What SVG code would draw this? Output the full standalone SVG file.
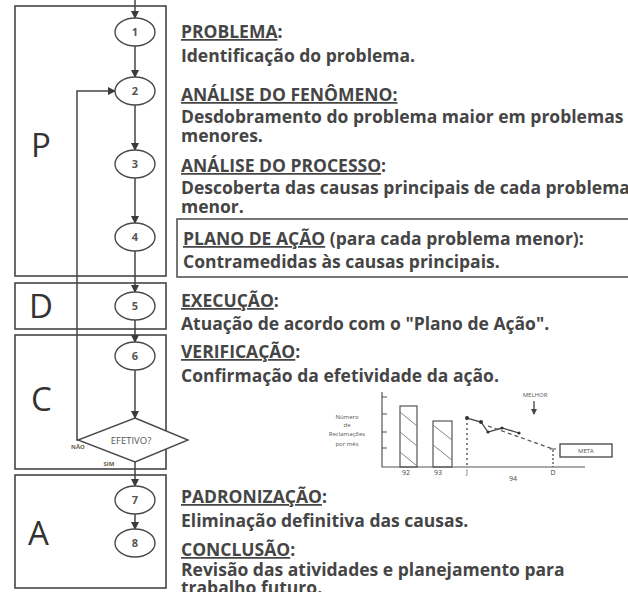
<svg xmlns="http://www.w3.org/2000/svg" width="628" height="592" viewBox="0 0 628 592">
<style>
.box{fill:none;stroke:#454545;stroke-width:1.6}
.node{fill:#fff;stroke:#4a4a4a;stroke-width:1.4}
.num{font-family:"Open Sans","Liberation Sans",sans-serif;font-weight:bold;font-size:11px;fill:#555;text-anchor:middle}
.big{font-family:"Open Sans","Liberation Sans",sans-serif;font-size:33px;fill:#333}
.t{font-family:"Open Sans","Liberation Sans",sans-serif;font-weight:bold;font-size:17.5px;fill:#454545}
.u{text-decoration:underline}
.con{fill:none;stroke:#454545;stroke-width:1.5}
.ch{fill:none;stroke:#555;stroke-width:1.2}
.sm{font-family:"Open Sans","Liberation Sans",sans-serif;font-size:6px;fill:#555;text-anchor:middle}
.lab{font-family:"Open Sans","Liberation Sans",sans-serif;font-size:7px;fill:#444;text-anchor:middle}
</style>
<defs>
<marker id="ah" markerWidth="8" markerHeight="8" refX="7" refY="4" orient="auto" markerUnits="userSpaceOnUse">
<path d="M0,0 L8,4 L0,8 z" fill="#3a3a3a"/>
</marker>
<marker id="sah" markerWidth="6" markerHeight="6" refX="5" refY="3" orient="auto" markerUnits="userSpaceOnUse">
<path d="M0,0 L6,3 L0,6 z" fill="#444"/>
</marker>
</defs>
<rect width="628" height="592" fill="#fff"/>

<g id="phases">
<rect class="box" x="15" y="6" width="151" height="270"/>
<rect class="box" x="15" y="283" width="151" height="46"/>
<rect class="box" x="15" y="335" width="151" height="134"/>
<rect class="box" x="15" y="475" width="151" height="113"/>
<text class="big" x="31" y="157">P</text>
<text class="big" x="29" y="318">D</text>
<text class="big" x="31" y="411">C</text>
<text class="big" x="28" y="545">A</text>
</g>

<g id="connectors">
<line class="con" x1="135" y1="0" x2="135" y2="18" marker-end="url(#ah)"/>
<line class="con" x1="135" y1="46" x2="135" y2="77" marker-end="url(#ah)"/>
<line class="con" x1="135" y1="105" x2="135" y2="150" marker-end="url(#ah)"/>
<line class="con" x1="135" y1="178" x2="135" y2="223" marker-end="url(#ah)"/>
<line class="con" x1="135" y1="251" x2="135" y2="292" marker-end="url(#ah)"/>
<line class="con" x1="135" y1="320" x2="135" y2="342" marker-end="url(#ah)"/>
<line class="con" x1="135" y1="370" x2="135" y2="418" marker-end="url(#ah)"/>
<line class="con" x1="135" y1="462" x2="135" y2="486" marker-end="url(#ah)"/>
<line class="con" x1="135" y1="514" x2="135" y2="529" marker-end="url(#ah)"/>
<path class="con" d="M79,440 H77 V91 H115" marker-end="url(#ah)"/>
</g>

<g id="n1"><ellipse class="node" cx="135" cy="32" rx="20" ry="14"/><text class="num" x="135" y="36">1</text></g>
<g id="n2"><ellipse class="node" cx="135" cy="91" rx="20" ry="14"/><text class="num" x="135" y="95">2</text></g>
<g id="n3"><ellipse class="node" cx="135" cy="164" rx="20" ry="14"/><text class="num" x="135" y="168">3</text></g>
<g id="n4"><ellipse class="node" cx="135" cy="237" rx="20" ry="14"/><text class="num" x="135" y="241">4</text></g>
<g id="n5"><ellipse class="node" cx="135" cy="306" rx="20" ry="14"/><text class="num" x="135" y="310">5</text></g>
<g id="n6"><ellipse class="node" cx="135" cy="356" rx="20" ry="14"/><text class="num" x="135" y="360">6</text></g>
<g id="decision">
<polygon class="node" points="135,418 188,440 135,462 78,440"/>
<text x="131" y="444" font-family="Open Sans, Liberation Sans, sans-serif" font-size="9.5" fill="#555" text-anchor="middle">EFETIVO?</text>
<text x="78" y="449" font-family="Open Sans, Liberation Sans, sans-serif" font-size="6" font-weight="bold" fill="#6a5a40" text-anchor="middle">NÃO</text>
<text x="109" y="466" font-family="Open Sans, Liberation Sans, sans-serif" font-size="6" font-weight="bold" fill="#6a5a40" text-anchor="middle">SIM</text>
</g>
<g id="n7"><ellipse class="node" cx="135" cy="500" rx="20" ry="14"/><text class="num" x="135" y="504">7</text></g>
<g id="n8"><ellipse class="node" cx="135" cy="543" rx="20" ry="14"/><text class="num" x="135" y="547">8</text></g>

<g id="texts">
<text class="t" x="181" y="38"><tspan class="u">PROBLEMA</tspan>:</text>
<text class="t" x="181" y="62">Identificação do problema.</text>
<text class="t" x="181" y="101"><tspan class="u">ANÁLISE DO FENÔMENO:</tspan></text>
<text class="t" x="181" y="123">Desdobramento do problema maior em problemas</text>
<text class="t" x="181" y="142">menores.</text>
<text class="t" x="181" y="172"><tspan class="u">ANÁLISE DO PROCESSO</tspan>:</text>
<text class="t" x="181" y="194">Descoberta das causas principais de cada problema</text>
<text class="t" x="181" y="213">menor.</text>
<rect x="177" y="219" width="460" height="58" fill="none" stroke="#555" stroke-width="1.6"/>
<text class="t" x="183" y="245"><tspan class="u">PLANO DE AÇÃO</tspan> (para cada problema menor):</text>
<text class="t" x="183" y="268">Contramedidas às causas principais.</text>
<text class="t" x="181" y="307"><tspan class="u">EXECUÇÃO</tspan>:</text>
<text class="t" x="181" y="330">Atuação de acordo com o "Plano de Ação".</text>
<text class="t" x="181" y="358"><tspan class="u">VERIFICAÇÃO</tspan>:</text>
<text class="t" x="181" y="382">Confirmação da efetividade da ação.</text>
<text class="t" x="181" y="503"><tspan class="u">PADRONIZAÇÃO</tspan>:</text>
<text class="t" x="181" y="527">Eliminação definitiva das causas.</text>
<text class="t" x="181" y="556"><tspan class="u">CONCLUSÃO</tspan>:</text>
<text class="t" x="181" y="576">Revisão das atividades e planejamento para</text>
<text class="t" x="181" y="594">trabalho futuro.</text>
</g>

<g id="chart">
<text class="sm" x="347" y="419">Número</text>
<text class="sm" x="347" y="427">de</text>
<text class="sm" x="347" y="436">Reclamações</text>
<text class="sm" x="347" y="446">por mês</text>
<path class="ch" d="M382,392 V467 H585"/>
<path class="ch" d="M382,397 h5 M382,414 h5 M382,432 h5 M382,448 h5"/>
<rect class="ch" x="400" y="406" width="17" height="61"/>
<path d="M400,412 L417,426 M400,432 L417,446 M400,452 L417,466" stroke="#777" stroke-width="0.9"/>
<rect class="ch" x="433" y="421" width="19" height="46"/>
<path d="M433,425 L452,440 M433,445 L452,460" stroke="#777" stroke-width="0.9"/>
<line x1="467" y1="418" x2="467" y2="467" stroke="#444" stroke-width="1.3" stroke-dasharray="2,3"/>
<polyline points="467,418 481,422 488,432 502,428 519,433" fill="none" stroke="#444" stroke-width="1.3"/>
<g fill="#333"><circle cx="467" cy="418" r="2"/><circle cx="481" cy="422" r="2"/><circle cx="488" cy="432" r="1.6"/><circle cx="502" cy="428" r="1.6"/><circle cx="519" cy="433" r="1.6"/></g>
<line x1="488" y1="426" x2="553" y2="449" stroke="#555" stroke-width="1.3" stroke-dasharray="4,3"/>
<line x1="553" y1="450" x2="553" y2="467" stroke="#444" stroke-width="1.2" stroke-dasharray="2,2"/>
<path d="M550,449 h6" stroke="#444" stroke-width="1"/>
<text class="sm" x="535" y="397">MELHOR</text>
<line x1="534" y1="401" x2="534" y2="414" stroke="#333" stroke-width="1.2" marker-end="url(#sah)"/>
<rect x="560" y="444" width="52" height="13" fill="none" stroke="#444" stroke-width="1.3"/>
<text class="sm" x="586" y="453">META</text>
<text class="lab" x="406" y="475">92</text>
<text class="lab" x="438" y="475">93</text>
<text class="lab" x="467" y="474">J</text>
<text class="lab" x="513" y="481">94</text>
<text class="lab" x="553" y="475">D</text>
</g>
</svg>
